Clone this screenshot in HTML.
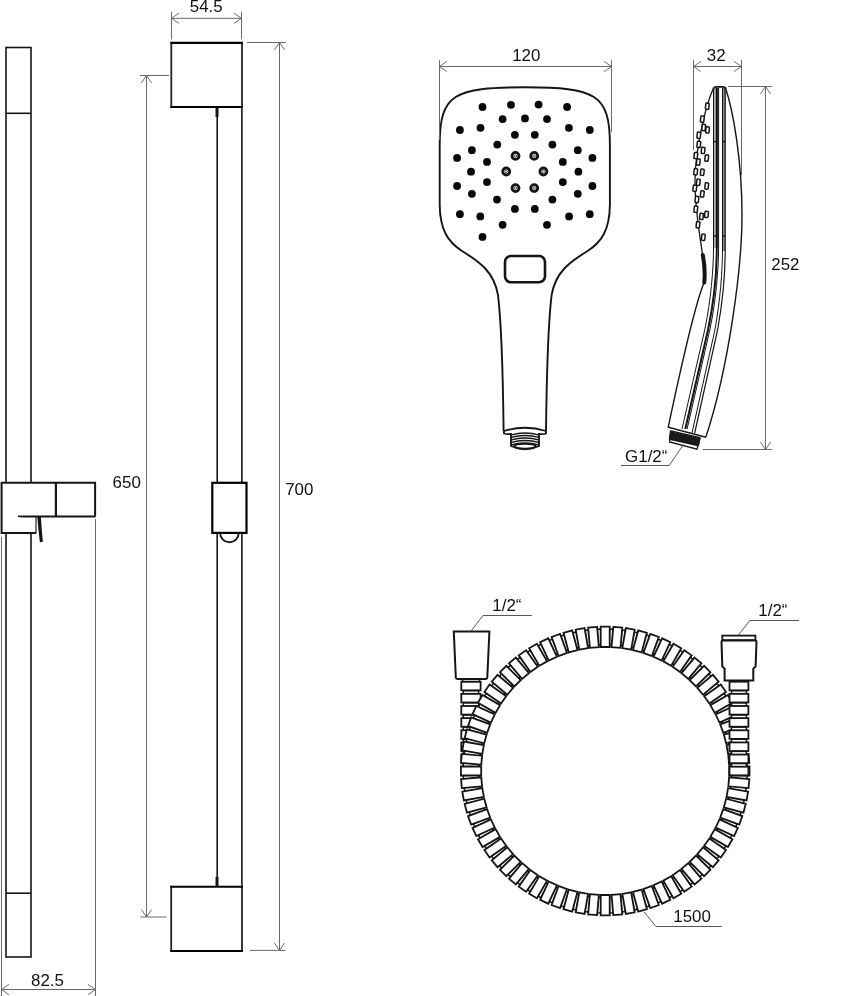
<!DOCTYPE html>
<html><head><meta charset="utf-8"><style>
html,body{margin:0;padding:0;background:#fff;}
svg{display:block;will-change:transform;}
text{font-family:"Liberation Sans",sans-serif;fill:#111;}
</style></head><body>
<svg width="850" height="996" viewBox="0 0 850 996">
<rect width="850" height="996" fill="#fff"/>
<rect x="6" y="47.5" width="25" height="909.5" fill="none" stroke="#151515" stroke-width="1.6"/>
<line x1="6.00" y1="113.30" x2="31.00" y2="113.30" stroke="#151515" stroke-width="1.6" />
<line x1="6.00" y1="893.20" x2="31.00" y2="893.20" stroke="#151515" stroke-width="1.6" />
<path d="M95.1 516.3 L95.1 482.8 L1.6 482.8 L1.6 533 L36 533" fill="#fff" stroke="#151515" stroke-width="2"/>
<rect x="36.5" y="517.5" width="58" height="15" fill="#fff"/>
<line x1="36.00" y1="516.50" x2="36.00" y2="533.50" stroke="#333" stroke-width="1.3" />
<line x1="55.90" y1="482.80" x2="55.90" y2="516.30" stroke="#151515" stroke-width="2.2" />
<path d="M18 515.6 L95.5 515.4 L95.5 517.4 L30 517.6 Q22 517.6 18 517 Z" fill="#151515"/>
<path d="M37.3 517 L40.9 517 Q41.6 530 42.9 541.6 L39.9 542.6 Q38.4 530 37.3 517 Z" fill="#151515"/>
<line x1="1.50" y1="537.00" x2="1.50" y2="996.00" stroke="#6a6a6a" stroke-width="1.0" />
<line x1="95.50" y1="519.00" x2="95.50" y2="996.00" stroke="#6a6a6a" stroke-width="1.0" />
<line x1="1.50" y1="989.50" x2="95.50" y2="989.50" stroke="#6a6a6a" stroke-width="1.0" />
<polyline points="8.90,984.40 1.50,989.50 8.90,994.60" fill="none" stroke="#6a6a6a" stroke-width="1.0"/>
<polyline points="88.10,994.60 95.50,989.50 88.10,984.40" fill="none" stroke="#6a6a6a" stroke-width="1.0"/>
<text x="31.09" y="985.70" font-size="16.9">82.5</text>
<line x1="217.20" y1="107.00" x2="217.20" y2="886.60" stroke="#151515" stroke-width="1.6" />
<line x1="217.00" y1="107.00" x2="217.00" y2="117.00" stroke="#151515" stroke-width="3" />
<line x1="217.00" y1="877.00" x2="217.00" y2="886.60" stroke="#151515" stroke-width="3" />
<line x1="241.90" y1="107.00" x2="241.90" y2="886.60" stroke="#151515" stroke-width="1.6" />
<rect x="171.3" y="42.9" width="70.69999999999999" height="64.1" fill="#fff"/>
<line x1="171.30" y1="41.85" x2="171.30" y2="108.05" stroke="#222" stroke-width="1.8" />
<line x1="242.00" y1="41.85" x2="242.00" y2="108.05" stroke="#222" stroke-width="1.8" />
<line x1="170.40" y1="42.90" x2="242.90" y2="42.90" stroke="#000" stroke-width="2.1" />
<line x1="170.40" y1="107.00" x2="242.90" y2="107.00" stroke="#000" stroke-width="2.1" />
<rect x="171.2" y="886.8" width="70.80000000000001" height="64.20000000000005" fill="#fff"/>
<line x1="171.20" y1="885.75" x2="171.20" y2="952.05" stroke="#222" stroke-width="1.8" />
<line x1="242.00" y1="885.75" x2="242.00" y2="952.05" stroke="#222" stroke-width="1.8" />
<line x1="170.30" y1="886.80" x2="242.90" y2="886.80" stroke="#000" stroke-width="2.1" />
<line x1="170.30" y1="951.00" x2="242.90" y2="951.00" stroke="#000" stroke-width="2.1" />
<path d="M220.1 533 A9.3 9.3 0 0 0 238.7 533" fill="#fff" stroke="#151515" stroke-width="1.9"/>
<rect x="212.3" y="482.8" width="34.2" height="50.1" fill="#fff" stroke="#000" stroke-width="2.2"/>
<line x1="171.50" y1="11.80" x2="171.50" y2="39.40" stroke="#6a6a6a" stroke-width="1.0" />
<line x1="241.50" y1="11.80" x2="241.50" y2="39.40" stroke="#6a6a6a" stroke-width="1.0" />
<line x1="171.50" y1="18.30" x2="241.50" y2="18.30" stroke="#6a6a6a" stroke-width="1.0" />
<polyline points="178.90,13.20 171.50,18.30 178.90,23.40" fill="none" stroke="#6a6a6a" stroke-width="1.0"/>
<polyline points="234.10,23.40 241.50,18.30 234.10,13.20" fill="none" stroke="#6a6a6a" stroke-width="1.0"/>
<text x="189.77" y="11.65" font-size="16.9">54.5</text>
<line x1="246.80" y1="42.50" x2="286.00" y2="42.50" stroke="#6a6a6a" stroke-width="1.0" />
<line x1="250.00" y1="950.40" x2="285.60" y2="950.40" stroke="#6a6a6a" stroke-width="1.0" />
<line x1="279.50" y1="42.50" x2="279.50" y2="950.40" stroke="#6a6a6a" stroke-width="1.0" />
<polyline points="284.60,49.90 279.50,42.50 274.40,49.90" fill="none" stroke="#6a6a6a" stroke-width="1.0"/>
<polyline points="274.40,943.00 279.50,950.40 284.60,943.00" fill="none" stroke="#6a6a6a" stroke-width="1.0"/>
<text x="285.20" y="494.80" font-size="16.9">700</text>
<line x1="140.00" y1="75.50" x2="169.00" y2="75.50" stroke="#6a6a6a" stroke-width="1.0" />
<line x1="140.40" y1="917.00" x2="166.60" y2="917.00" stroke="#6a6a6a" stroke-width="1.0" />
<line x1="146.50" y1="75.50" x2="146.50" y2="917.00" stroke="#6a6a6a" stroke-width="1.0" />
<polyline points="151.60,82.90 146.50,75.50 141.40,82.90" fill="none" stroke="#6a6a6a" stroke-width="1.0"/>
<polyline points="141.40,909.60 146.50,917.00 151.60,909.60" fill="none" stroke="#6a6a6a" stroke-width="1.0"/>
<text x="112.60" y="487.70" font-size="16.9">650</text>
<path d="M503.60 431 C503 380 501 320 498 295 C494 272 480 262 462 251 C448 242 440 230 439.7 205 L439.7 145 C439.7 94 454 87.4 524.8 87.3 C595.5999999999999 87.4 609.8999999999999 94 609.8999999999999 145 L609.8999999999999 205 C609.5999999999999 230 601.5999999999999 242 587.5999999999999 251 C569.5999999999999 262 555.5999999999999 272 551.5999999999999 295 C548.5999999999999 320 546.5999999999999 380 545.9999999999999 431" fill="none" stroke="#151515" stroke-width="1.9"/>
<circle cx="482.5" cy="107.0" r="3.9" fill="#080808"/>
<circle cx="511.0" cy="104.8" r="3.9" fill="#080808"/>
<circle cx="538.6" cy="104.6" r="3.9" fill="#080808"/>
<circle cx="567.1" cy="107.0" r="3.9" fill="#080808"/>
<circle cx="502.6" cy="119.1" r="3.9" fill="#080808"/>
<circle cx="525.0" cy="118.4" r="3.9" fill="#080808"/>
<circle cx="547.0" cy="119.1" r="3.9" fill="#080808"/>
<circle cx="459.9" cy="130.0" r="3.9" fill="#080808"/>
<circle cx="480.5" cy="127.8" r="3.9" fill="#080808"/>
<circle cx="568.9" cy="127.8" r="3.9" fill="#080808"/>
<circle cx="589.8" cy="130.0" r="3.9" fill="#080808"/>
<circle cx="514.9" cy="134.8" r="3.9" fill="#080808"/>
<circle cx="534.8" cy="134.8" r="3.9" fill="#080808"/>
<circle cx="497.3" cy="144.6" r="3.9" fill="#080808"/>
<circle cx="552.4" cy="144.6" r="3.9" fill="#080808"/>
<circle cx="471.9" cy="150.2" r="3.9" fill="#080808"/>
<circle cx="577.8" cy="150.2" r="3.9" fill="#080808"/>
<circle cx="457.1" cy="157.9" r="3.9" fill="#080808"/>
<circle cx="487.0" cy="161.9" r="3.9" fill="#080808"/>
<circle cx="562.8" cy="161.9" r="3.9" fill="#080808"/>
<circle cx="592.4" cy="157.9" r="3.9" fill="#080808"/>
<circle cx="471.0" cy="171.7" r="3.9" fill="#080808"/>
<circle cx="578.4" cy="171.7" r="3.9" fill="#080808"/>
<circle cx="487.0" cy="182.1" r="3.9" fill="#080808"/>
<circle cx="562.8" cy="182.1" r="3.9" fill="#080808"/>
<circle cx="457.1" cy="186.0" r="3.9" fill="#080808"/>
<circle cx="592.4" cy="186.0" r="3.9" fill="#080808"/>
<circle cx="471.9" cy="193.8" r="3.9" fill="#080808"/>
<circle cx="577.8" cy="193.8" r="3.9" fill="#080808"/>
<circle cx="497.0" cy="199.6" r="3.9" fill="#080808"/>
<circle cx="552.4" cy="199.6" r="3.9" fill="#080808"/>
<circle cx="514.9" cy="208.9" r="3.9" fill="#080808"/>
<circle cx="534.8" cy="208.9" r="3.9" fill="#080808"/>
<circle cx="459.9" cy="214.2" r="3.9" fill="#080808"/>
<circle cx="480.3" cy="216.4" r="3.9" fill="#080808"/>
<circle cx="569.1" cy="216.4" r="3.9" fill="#080808"/>
<circle cx="589.8" cy="214.2" r="3.9" fill="#080808"/>
<circle cx="502.6" cy="224.8" r="3.9" fill="#080808"/>
<circle cx="547.0" cy="224.8" r="3.9" fill="#080808"/>
<circle cx="482.5" cy="236.9" r="3.9" fill="#080808"/>
<circle cx="515.5" cy="155.9" r="3.5" fill="#fff" stroke="#151515" stroke-width="2.8"/>
<circle cx="515.5" cy="155.9" r="1.2" fill="none" stroke="#151515" stroke-width="0.7"/>
<circle cx="534.2" cy="155.9" r="3.5" fill="#fff" stroke="#151515" stroke-width="2.8"/>
<circle cx="534.2" cy="155.9" r="1.2" fill="none" stroke="#151515" stroke-width="0.7"/>
<circle cx="506.2" cy="171.5" r="3.5" fill="#fff" stroke="#151515" stroke-width="2.8"/>
<circle cx="506.2" cy="171.5" r="1.2" fill="none" stroke="#151515" stroke-width="0.7"/>
<circle cx="543.4" cy="171.5" r="3.5" fill="#fff" stroke="#151515" stroke-width="2.8"/>
<circle cx="543.4" cy="171.5" r="1.2" fill="none" stroke="#151515" stroke-width="0.7"/>
<circle cx="515.5" cy="188.1" r="3.5" fill="#fff" stroke="#151515" stroke-width="2.8"/>
<circle cx="515.5" cy="188.1" r="1.2" fill="none" stroke="#151515" stroke-width="0.7"/>
<circle cx="534.2" cy="188.1" r="3.5" fill="#fff" stroke="#151515" stroke-width="2.8"/>
<circle cx="534.2" cy="188.1" r="1.2" fill="none" stroke="#151515" stroke-width="0.7"/>
<rect x="505" y="256" width="40" height="26.3" rx="6" fill="none" stroke="#151515" stroke-width="2.6"/>
<path d="M504 433.5 L504 431 Q525 424.5 546 431 L546 433.5 Q543 434.5 539 434 L539 446 Q525 452.5 511 446 L511 434 Q507 434.5 504 433.5 Z" fill="#fff" stroke="#151515" stroke-width="1.8"/>
<path d="M510.5 435.1 Q525 430.8 539.5 435.1" fill="none" stroke="#151515" stroke-width="1.5"/>
<path d="M510.5 437.6 Q525 433.3 539.5 437.6" fill="none" stroke="#151515" stroke-width="1.5"/>
<path d="M510.5 440.1 Q525 435.8 539.5 440.1" fill="none" stroke="#151515" stroke-width="1.5"/>
<path d="M510.5 442.6 Q525 438.3 539.5 442.6" fill="none" stroke="#151515" stroke-width="1.5"/>
<path d="M510.5 445.1 Q525 440.8 539.5 445.1" fill="none" stroke="#151515" stroke-width="1.5"/>
<ellipse cx="525" cy="446.2" rx="10.6" ry="2.5" fill="#fff" stroke="#151515" stroke-width="1.9"/>
<line x1="439.50" y1="60.30" x2="439.50" y2="140.00" stroke="#6a6a6a" stroke-width="1.0" />
<line x1="611.50" y1="60.30" x2="611.50" y2="132.00" stroke="#6a6a6a" stroke-width="1.0" />
<line x1="439.50" y1="66.50" x2="611.50" y2="66.50" stroke="#6a6a6a" stroke-width="1.0" />
<polyline points="446.90,61.40 439.50,66.50 446.90,71.60" fill="none" stroke="#6a6a6a" stroke-width="1.0"/>
<polyline points="604.10,71.60 611.50,66.50 604.10,61.40" fill="none" stroke="#6a6a6a" stroke-width="1.0"/>
<text x="512.14" y="60.90" font-size="16.9">120</text>
<line x1="693.50" y1="59.80" x2="693.50" y2="150.00" stroke="#6a6a6a" stroke-width="1.0" />
<line x1="741.50" y1="59.80" x2="741.50" y2="175.00" stroke="#6a6a6a" stroke-width="1.0" />
<line x1="693.50" y1="66.50" x2="741.50" y2="66.50" stroke="#6a6a6a" stroke-width="1.0" />
<polyline points="700.90,61.40 693.50,66.50 700.90,71.60" fill="none" stroke="#6a6a6a" stroke-width="1.0"/>
<polyline points="734.10,71.60 741.50,66.50 734.10,61.40" fill="none" stroke="#6a6a6a" stroke-width="1.0"/>
<text x="706.85" y="60.80" font-size="16.9">32</text>
<line x1="728.00" y1="86.50" x2="772.00" y2="86.50" stroke="#6a6a6a" stroke-width="1.0" />
<line x1="702.70" y1="449.50" x2="772.00" y2="449.50" stroke="#6a6a6a" stroke-width="1.0" />
<line x1="765.50" y1="86.50" x2="765.50" y2="449.50" stroke="#6a6a6a" stroke-width="1.0" />
<polyline points="770.60,93.90 765.50,86.50 760.40,93.90" fill="none" stroke="#6a6a6a" stroke-width="1.0"/>
<polyline points="760.40,442.10 765.50,449.50 770.60,442.10" fill="none" stroke="#6a6a6a" stroke-width="1.0"/>
<text x="771.25" y="269.80" font-size="16.9">252</text>
<path d="M725.5 88 C733 110 742 160 742 215 C742 270 728 370 705.8 437.2" fill="none" stroke="#151515" stroke-width="1.4"/>
<path d="M713.5 88.5 Q714.5 86.8 716.5 86.8 L723 86.8 Q725 86.8 725.8 88.5" fill="none" stroke="#151515" stroke-width="1.8"/>
<path d="M713.5 88 C708 100 696 140 695 180 C694.5 205 699 230 702.6 255" fill="none" stroke="#151515" stroke-width="1.3"/>
<path d="M702.8 255 Q705.5 268 704.3 282.4" fill="none" stroke="#151515" stroke-width="4" stroke-linecap="round"/>
<path d="M703.7 283.5 Q693 310 668.2 427.3 L705.8 437.3" fill="none" stroke="#151515" stroke-width="1.4"/>
<path d="M713.5 88 L713.5 248 C713.5 268 711.0 300 704.7 330 L682.0 429" fill="none" stroke="#151515" stroke-width="1.0"/>
<path d="M716.8 88 L716.8 248 C716.8 268 714.3 300 708.0 330 L685.3 429" fill="none" stroke="#151515" stroke-width="2.0"/>
<path d="M718.6 88 L718.6 248 C718.6 268 716.1 300 709.8000000000001 330 L687.1 429" fill="none" stroke="#151515" stroke-width="1.0"/>
<path d="M722.5 88 L722.5 250 C722.5 270 720.3 300 714.9 330 L692.0 433" fill="none" stroke="#151515" stroke-width="1.0"/>
<path d="M725.2 88 L725.2 250 C725.2 270 723.0 300 717.6 330 L694.7 433" fill="none" stroke="#151515" stroke-width="1.2"/>
<rect x="713.5" y="88" width="5" height="160" fill="#000" opacity="0.3"/>
<rect x="722.5" y="88" width="2.7" height="163" fill="#000" opacity="0.45"/>
<line x1="713.50" y1="141.60" x2="718.60" y2="141.60" stroke="#151515" stroke-width="1.4" />
<line x1="722.50" y1="141.60" x2="725.20" y2="141.60" stroke="#151515" stroke-width="1.4" />
<line x1="713.50" y1="236.10" x2="718.60" y2="236.10" stroke="#151515" stroke-width="1.4" />
<line x1="722.50" y1="236.10" x2="725.20" y2="236.10" stroke="#151515" stroke-width="1.4" />
<rect x="705.60" y="103.10" width="3.4" height="6.2" rx="0.8" fill="#fff" stroke="#151515" stroke-width="1.5" transform="rotate(6 707.3 106.2)"/>
<rect x="700.60" y="116.00" width="3.4" height="6.2" rx="0.8" fill="#fff" stroke="#151515" stroke-width="1.5" transform="rotate(6 702.3 119.1)"/>
<rect x="702.00" y="124.40" width="3.4" height="6.2" rx="0.8" fill="#fff" stroke="#151515" stroke-width="1.5" transform="rotate(6 703.7 127.5)"/>
<rect x="705.80" y="126.80" width="3.4" height="6.2" rx="0.8" fill="#fff" stroke="#151515" stroke-width="1.5" transform="rotate(6 707.5 129.9)"/>
<rect x="697.10" y="132.10" width="3.4" height="6.2" rx="0.8" fill="#fff" stroke="#151515" stroke-width="1.5" transform="rotate(6 698.8 135.2)"/>
<rect x="697.10" y="141.30" width="3.4" height="6.2" rx="0.8" fill="#fff" stroke="#151515" stroke-width="1.5" transform="rotate(6 698.8 144.4)"/>
<rect x="701.40" y="147.30" width="3.4" height="6.2" rx="0.8" fill="#fff" stroke="#151515" stroke-width="1.5" transform="rotate(6 703.1 150.4)"/>
<rect x="694.10" y="152.50" width="3.4" height="6.2" rx="0.8" fill="#fff" stroke="#151515" stroke-width="1.5" transform="rotate(6 695.8 155.6)"/>
<rect x="705.00" y="155.00" width="3.4" height="6.2" rx="0.8" fill="#fff" stroke="#151515" stroke-width="1.5" transform="rotate(6 706.7 158.1)"/>
<rect x="696.60" y="159.00" width="3.4" height="6.2" rx="0.8" fill="#fff" stroke="#151515" stroke-width="1.5" transform="rotate(6 698.3 162.1)"/>
<rect x="694.00" y="168.70" width="3.4" height="6.2" rx="0.8" fill="#fff" stroke="#151515" stroke-width="1.5" transform="rotate(6 695.7 171.8)"/>
<rect x="700.60" y="169.10" width="3.4" height="6.2" rx="0.8" fill="#fff" stroke="#151515" stroke-width="1.5" transform="rotate(6 702.3 172.2)"/>
<rect x="696.60" y="179.20" width="3.4" height="6.2" rx="0.8" fill="#fff" stroke="#151515" stroke-width="1.5" transform="rotate(6 698.3 182.3)"/>
<rect x="693.10" y="185.20" width="3.4" height="6.2" rx="0.8" fill="#fff" stroke="#151515" stroke-width="1.5" transform="rotate(6 694.8 188.3)"/>
<rect x="705.00" y="182.90" width="3.4" height="6.2" rx="0.8" fill="#fff" stroke="#151515" stroke-width="1.5" transform="rotate(6 706.7 186.0)"/>
<rect x="700.60" y="190.80" width="3.4" height="6.2" rx="0.8" fill="#fff" stroke="#151515" stroke-width="1.5" transform="rotate(6 702.3 193.9)"/>
<rect x="695.20" y="196.40" width="3.4" height="6.2" rx="0.8" fill="#fff" stroke="#151515" stroke-width="1.5" transform="rotate(6 696.9 199.5)"/>
<rect x="694.10" y="206.10" width="3.4" height="6.2" rx="0.8" fill="#fff" stroke="#151515" stroke-width="1.5" transform="rotate(6 695.8 209.2)"/>
<rect x="704.80" y="211.30" width="3.4" height="6.2" rx="0.8" fill="#fff" stroke="#151515" stroke-width="1.5" transform="rotate(6 706.5 214.4)"/>
<rect x="699.80" y="213.30" width="3.4" height="6.2" rx="0.8" fill="#fff" stroke="#151515" stroke-width="1.5" transform="rotate(6 701.5 216.4)"/>
<rect x="696.30" y="221.70" width="3.4" height="6.2" rx="0.8" fill="#fff" stroke="#151515" stroke-width="1.5" transform="rotate(6 698.0 224.8)"/>
<rect x="701.60" y="234.20" width="3.4" height="6.2" rx="0.8" fill="#fff" stroke="#151515" stroke-width="1.5" transform="rotate(6 703.3 237.3)"/>
<path d="M671 430.8 L700 437.8 L697 449.2 L669.6 442 Z" fill="#fff" stroke="#151515" stroke-width="1.3"/>
<path d="M670.8 432.2 L699.3 439 L698 445.2 L669.9 438.8 Z" fill="#1a1a1a" stroke="#1a1a1a" stroke-width="2.2"/>
<line x1="621.00" y1="465.50" x2="669.20" y2="465.50" stroke="#555" stroke-width="1" />
<line x1="669.20" y1="465.50" x2="683.50" y2="444.50" stroke="#555" stroke-width="1" />
<text x="625.10" y="461.80" font-size="16.9">G1/2“</text>
<rect x="463.3" y="763.50" width="15.300000000000011" height="3.6" fill="#fff" stroke="#151515" stroke-width="1.5"/>
<rect x="463.3" y="751.36" width="15.300000000000011" height="3.6" fill="#fff" stroke="#151515" stroke-width="1.5"/>
<rect x="463.3" y="739.22" width="15.300000000000011" height="3.6" fill="#fff" stroke="#151515" stroke-width="1.5"/>
<rect x="463.3" y="727.08" width="15.300000000000011" height="3.6" fill="#fff" stroke="#151515" stroke-width="1.5"/>
<rect x="463.3" y="714.94" width="15.300000000000011" height="3.6" fill="#fff" stroke="#151515" stroke-width="1.5"/>
<rect x="463.3" y="702.80" width="15.300000000000011" height="3.6" fill="#fff" stroke="#151515" stroke-width="1.5"/>
<rect x="463.3" y="690.66" width="15.300000000000011" height="3.6" fill="#fff" stroke="#151515" stroke-width="1.5"/>
<rect x="463.3" y="678.52" width="15.300000000000011" height="3.6" fill="#fff" stroke="#151515" stroke-width="1.5"/>
<rect x="461.3" y="766.70" width="19.30000000000001" height="8.6" fill="#fff" stroke="#151515" stroke-width="1.8"/>
<rect x="461.3" y="754.56" width="19.30000000000001" height="8.6" fill="#fff" stroke="#151515" stroke-width="1.8"/>
<rect x="461.3" y="742.42" width="19.30000000000001" height="8.6" fill="#fff" stroke="#151515" stroke-width="1.8"/>
<rect x="461.3" y="730.28" width="19.30000000000001" height="8.6" fill="#fff" stroke="#151515" stroke-width="1.8"/>
<rect x="461.3" y="718.14" width="19.30000000000001" height="8.6" fill="#fff" stroke="#151515" stroke-width="1.8"/>
<rect x="461.3" y="706.00" width="19.30000000000001" height="8.6" fill="#fff" stroke="#151515" stroke-width="1.8"/>
<rect x="461.3" y="693.86" width="19.30000000000001" height="8.6" fill="#fff" stroke="#151515" stroke-width="1.8"/>
<rect x="461.3" y="681.72" width="19.30000000000001" height="8.6" fill="#fff" stroke="#151515" stroke-width="1.8"/>
<polygon points="731.51,763.78 746.99,763.11 747.14,766.50 731.65,767.18" fill="#fff" stroke="#151515" stroke-width="1.5"/>
<polygon points="730.40,752.80 745.76,750.78 746.21,754.15 730.84,756.17" fill="#fff" stroke="#151515" stroke-width="1.5"/>
<polygon points="728.33,741.96 743.47,738.61 744.20,741.93 729.07,745.28" fill="#fff" stroke="#151515" stroke-width="1.5"/>
<polygon points="725.33,731.34 740.12,726.68 741.14,729.92 726.36,734.58" fill="#fff" stroke="#151515" stroke-width="1.5"/>
<polygon points="721.42,721.02 735.74,715.09 737.04,718.23 722.72,724.16" fill="#fff" stroke="#151515" stroke-width="1.5"/>
<polygon points="716.62,711.08 730.37,703.92 731.94,706.94 718.19,714.10" fill="#fff" stroke="#151515" stroke-width="1.5"/>
<polygon points="710.98,701.60 724.05,693.27 725.87,696.14 712.80,704.47" fill="#fff" stroke="#151515" stroke-width="1.5"/>
<polygon points="704.52,692.64 716.82,683.21 718.89,685.90 706.59,695.34" fill="#fff" stroke="#151515" stroke-width="1.5"/>
<polygon points="697.32,684.28 708.74,673.81 711.04,676.32 699.61,686.79" fill="#fff" stroke="#151515" stroke-width="1.5"/>
<polygon points="689.41,676.59 699.88,665.16 702.39,667.46 691.92,678.88" fill="#fff" stroke="#151515" stroke-width="1.5"/>
<polygon points="680.86,669.61 690.30,657.31 692.99,659.38 683.56,671.68" fill="#fff" stroke="#151515" stroke-width="1.5"/>
<polygon points="671.73,663.40 680.06,650.33 682.93,652.15 674.60,665.22" fill="#fff" stroke="#151515" stroke-width="1.5"/>
<polygon points="662.10,658.01 669.26,644.26 672.28,645.83 665.12,659.58" fill="#fff" stroke="#151515" stroke-width="1.5"/>
<polygon points="652.04,653.48 657.97,639.16 661.11,640.46 655.18,654.78" fill="#fff" stroke="#151515" stroke-width="1.5"/>
<polygon points="641.62,649.84 646.28,635.06 649.52,636.08 644.86,650.87" fill="#fff" stroke="#151515" stroke-width="1.5"/>
<polygon points="630.92,647.13 634.27,632.00 637.59,632.73 634.24,647.87" fill="#fff" stroke="#151515" stroke-width="1.5"/>
<polygon points="620.03,645.36 622.05,629.99 625.42,630.44 623.40,645.80" fill="#fff" stroke="#151515" stroke-width="1.5"/>
<polygon points="609.02,644.55 609.70,629.06 613.09,629.21 612.42,644.69" fill="#fff" stroke="#151515" stroke-width="1.5"/>
<polygon points="597.98,644.69 597.31,629.21 600.70,629.06 601.38,644.55" fill="#fff" stroke="#151515" stroke-width="1.5"/>
<polygon points="587.00,645.80 584.98,630.44 588.35,629.99 590.37,645.36" fill="#fff" stroke="#151515" stroke-width="1.5"/>
<polygon points="576.16,647.87 572.81,632.73 576.13,632.00 579.48,647.13" fill="#fff" stroke="#151515" stroke-width="1.5"/>
<polygon points="565.54,650.87 560.88,636.08 564.12,635.06 568.78,649.84" fill="#fff" stroke="#151515" stroke-width="1.5"/>
<polygon points="555.22,654.78 549.29,640.46 552.43,639.16 558.36,653.48" fill="#fff" stroke="#151515" stroke-width="1.5"/>
<polygon points="545.28,659.58 538.12,645.83 541.14,644.26 548.30,658.01" fill="#fff" stroke="#151515" stroke-width="1.5"/>
<polygon points="535.80,665.22 527.47,652.15 530.34,650.33 538.67,663.40" fill="#fff" stroke="#151515" stroke-width="1.5"/>
<polygon points="526.84,671.68 517.41,659.38 520.10,657.31 529.54,669.61" fill="#fff" stroke="#151515" stroke-width="1.5"/>
<polygon points="518.48,678.88 508.01,667.46 510.52,665.16 520.99,676.59" fill="#fff" stroke="#151515" stroke-width="1.5"/>
<polygon points="510.79,686.79 499.36,676.32 501.66,673.81 513.08,684.28" fill="#fff" stroke="#151515" stroke-width="1.5"/>
<polygon points="503.81,695.34 491.51,685.90 493.58,683.21 505.88,692.64" fill="#fff" stroke="#151515" stroke-width="1.5"/>
<polygon points="497.60,704.47 484.53,696.14 486.35,693.27 499.42,701.60" fill="#fff" stroke="#151515" stroke-width="1.5"/>
<polygon points="492.21,714.10 478.46,706.94 480.03,703.92 493.78,711.08" fill="#fff" stroke="#151515" stroke-width="1.5"/>
<polygon points="487.68,724.16 473.36,718.23 474.66,715.09 488.98,721.02" fill="#fff" stroke="#151515" stroke-width="1.5"/>
<polygon points="484.04,734.58 469.26,729.92 470.28,726.68 485.07,731.34" fill="#fff" stroke="#151515" stroke-width="1.5"/>
<polygon points="481.33,745.28 466.20,741.93 466.93,738.61 482.07,741.96" fill="#fff" stroke="#151515" stroke-width="1.5"/>
<polygon points="479.56,756.17 464.19,754.15 464.64,750.78 480.00,752.80" fill="#fff" stroke="#151515" stroke-width="1.5"/>
<polygon points="478.75,767.18 463.26,766.50 463.41,763.11 478.89,763.78" fill="#fff" stroke="#151515" stroke-width="1.5"/>
<polygon points="478.89,778.22 463.41,778.89 463.26,775.50 478.75,774.82" fill="#fff" stroke="#151515" stroke-width="1.5"/>
<polygon points="480.00,789.20 464.64,791.22 464.19,787.85 479.56,785.83" fill="#fff" stroke="#151515" stroke-width="1.5"/>
<polygon points="482.07,800.04 466.93,803.39 466.20,800.07 481.33,796.72" fill="#fff" stroke="#151515" stroke-width="1.5"/>
<polygon points="485.07,810.66 470.28,815.32 469.26,812.08 484.04,807.42" fill="#fff" stroke="#151515" stroke-width="1.5"/>
<polygon points="488.98,820.98 474.66,826.91 473.36,823.77 487.68,817.84" fill="#fff" stroke="#151515" stroke-width="1.5"/>
<polygon points="493.78,830.92 480.03,838.08 478.46,835.06 492.21,827.90" fill="#fff" stroke="#151515" stroke-width="1.5"/>
<polygon points="499.42,840.40 486.35,848.73 484.53,845.86 497.60,837.53" fill="#fff" stroke="#151515" stroke-width="1.5"/>
<polygon points="505.88,849.36 493.58,858.79 491.51,856.10 503.81,846.66" fill="#fff" stroke="#151515" stroke-width="1.5"/>
<polygon points="513.08,857.72 501.66,868.19 499.36,865.68 510.79,855.21" fill="#fff" stroke="#151515" stroke-width="1.5"/>
<polygon points="520.99,865.41 510.52,876.84 508.01,874.54 518.48,863.12" fill="#fff" stroke="#151515" stroke-width="1.5"/>
<polygon points="529.54,872.39 520.10,884.69 517.41,882.62 526.84,870.32" fill="#fff" stroke="#151515" stroke-width="1.5"/>
<polygon points="538.67,878.60 530.34,891.67 527.47,889.85 535.80,876.78" fill="#fff" stroke="#151515" stroke-width="1.5"/>
<polygon points="548.30,883.99 541.14,897.74 538.12,896.17 545.28,882.42" fill="#fff" stroke="#151515" stroke-width="1.5"/>
<polygon points="558.36,888.52 552.43,902.84 549.29,901.54 555.22,887.22" fill="#fff" stroke="#151515" stroke-width="1.5"/>
<polygon points="568.78,892.16 564.12,906.94 560.88,905.92 565.54,891.13" fill="#fff" stroke="#151515" stroke-width="1.5"/>
<polygon points="579.48,894.87 576.13,910.00 572.81,909.27 576.16,894.13" fill="#fff" stroke="#151515" stroke-width="1.5"/>
<polygon points="590.37,896.64 588.35,912.01 584.98,911.56 587.00,896.20" fill="#fff" stroke="#151515" stroke-width="1.5"/>
<polygon points="601.38,897.45 600.70,912.94 597.31,912.79 597.98,897.31" fill="#fff" stroke="#151515" stroke-width="1.5"/>
<polygon points="612.42,897.31 613.09,912.79 609.70,912.94 609.02,897.45" fill="#fff" stroke="#151515" stroke-width="1.5"/>
<polygon points="623.40,896.20 625.42,911.56 622.05,912.01 620.03,896.64" fill="#fff" stroke="#151515" stroke-width="1.5"/>
<polygon points="634.24,894.13 637.59,909.27 634.27,910.00 630.92,894.87" fill="#fff" stroke="#151515" stroke-width="1.5"/>
<polygon points="644.86,891.13 649.52,905.92 646.28,906.94 641.62,892.16" fill="#fff" stroke="#151515" stroke-width="1.5"/>
<polygon points="655.18,887.22 661.11,901.54 657.97,902.84 652.04,888.52" fill="#fff" stroke="#151515" stroke-width="1.5"/>
<polygon points="665.12,882.42 672.28,896.17 669.26,897.74 662.10,883.99" fill="#fff" stroke="#151515" stroke-width="1.5"/>
<polygon points="674.60,876.78 682.93,889.85 680.06,891.67 671.73,878.60" fill="#fff" stroke="#151515" stroke-width="1.5"/>
<polygon points="683.56,870.32 692.99,882.62 690.30,884.69 680.86,872.39" fill="#fff" stroke="#151515" stroke-width="1.5"/>
<polygon points="691.92,863.12 702.39,874.54 699.88,876.84 689.41,865.41" fill="#fff" stroke="#151515" stroke-width="1.5"/>
<polygon points="699.61,855.21 711.04,865.68 708.74,868.19 697.32,857.72" fill="#fff" stroke="#151515" stroke-width="1.5"/>
<polygon points="706.59,846.66 718.89,856.10 716.82,858.79 704.52,849.36" fill="#fff" stroke="#151515" stroke-width="1.5"/>
<polygon points="712.80,837.53 725.87,845.86 724.05,848.73 710.98,840.40" fill="#fff" stroke="#151515" stroke-width="1.5"/>
<polygon points="718.19,827.90 731.94,835.06 730.37,838.08 716.62,830.92" fill="#fff" stroke="#151515" stroke-width="1.5"/>
<polygon points="722.72,817.84 737.04,823.77 735.74,826.91 721.42,820.98" fill="#fff" stroke="#151515" stroke-width="1.5"/>
<polygon points="726.36,807.42 741.14,812.08 740.12,815.32 725.33,810.66" fill="#fff" stroke="#151515" stroke-width="1.5"/>
<polygon points="729.07,796.72 744.20,800.07 743.47,803.39 728.33,800.04" fill="#fff" stroke="#151515" stroke-width="1.5"/>
<polygon points="730.84,785.83 746.21,787.85 745.76,791.22 730.40,789.20" fill="#fff" stroke="#151515" stroke-width="1.5"/>
<polygon points="731.65,774.82 747.14,775.50 746.99,778.89 731.51,778.22" fill="#fff" stroke="#151515" stroke-width="1.5"/>
<polygon points="729.20,766.50 749.50,766.50 749.50,775.50 729.20,775.50" fill="#fff" stroke="#151515" stroke-width="1.8"/>
<polygon points="728.34,755.71 748.56,753.94 749.34,762.91 729.12,764.68" fill="#fff" stroke="#151515" stroke-width="1.8"/>
<polygon points="726.53,745.04 746.53,741.51 748.09,750.37 728.10,753.90" fill="#fff" stroke="#151515" stroke-width="1.8"/>
<polygon points="723.81,734.56 743.42,729.31 745.75,738.00 726.14,743.25" fill="#fff" stroke="#151515" stroke-width="1.8"/>
<polygon points="720.18,724.36 739.26,717.42 742.34,725.88 723.26,732.82" fill="#fff" stroke="#151515" stroke-width="1.8"/>
<polygon points="715.68,714.52 734.08,705.94 737.88,714.09 719.48,722.67" fill="#fff" stroke="#151515" stroke-width="1.8"/>
<polygon points="710.34,705.10 727.92,694.95 732.42,702.75 714.84,712.90" fill="#fff" stroke="#151515" stroke-width="1.8"/>
<polygon points="704.19,696.19 720.82,684.55 725.98,691.92 709.36,703.56" fill="#fff" stroke="#151515" stroke-width="1.8"/>
<polygon points="697.30,687.85 712.85,674.80 718.63,681.69 703.08,694.74" fill="#fff" stroke="#151515" stroke-width="1.8"/>
<polygon points="689.70,680.14 704.05,665.78 710.42,672.15 696.06,686.50" fill="#fff" stroke="#151515" stroke-width="1.8"/>
<polygon points="681.46,673.12 694.51,657.57 701.40,663.35 688.35,678.90" fill="#fff" stroke="#151515" stroke-width="1.8"/>
<polygon points="672.64,666.84 684.28,650.22 691.65,655.38 680.01,672.01" fill="#fff" stroke="#151515" stroke-width="1.8"/>
<polygon points="663.30,661.36 673.45,643.78 681.25,648.28 671.10,665.86" fill="#fff" stroke="#151515" stroke-width="1.8"/>
<polygon points="653.53,656.72 662.11,638.32 670.26,642.12 661.68,660.52" fill="#fff" stroke="#151515" stroke-width="1.8"/>
<polygon points="643.38,652.94 650.32,633.86 658.78,636.94 651.84,656.02" fill="#fff" stroke="#151515" stroke-width="1.8"/>
<polygon points="632.95,650.06 638.20,630.45 646.89,632.78 641.64,652.39" fill="#fff" stroke="#151515" stroke-width="1.8"/>
<polygon points="622.30,648.10 625.83,628.11 634.69,629.67 631.16,649.67" fill="#fff" stroke="#151515" stroke-width="1.8"/>
<polygon points="611.52,647.08 613.29,626.86 622.26,627.64 620.49,647.86" fill="#fff" stroke="#151515" stroke-width="1.8"/>
<polygon points="600.70,647.00 600.70,626.70 609.70,626.70 609.70,647.00" fill="#fff" stroke="#151515" stroke-width="1.8"/>
<polygon points="589.91,647.86 588.14,627.64 597.11,626.86 598.88,647.08" fill="#fff" stroke="#151515" stroke-width="1.8"/>
<polygon points="579.24,649.67 575.71,629.67 584.57,628.11 588.10,648.10" fill="#fff" stroke="#151515" stroke-width="1.8"/>
<polygon points="568.76,652.39 563.51,632.78 572.20,630.45 577.45,650.06" fill="#fff" stroke="#151515" stroke-width="1.8"/>
<polygon points="558.56,656.02 551.62,636.94 560.08,633.86 567.02,652.94" fill="#fff" stroke="#151515" stroke-width="1.8"/>
<polygon points="548.72,660.52 540.14,642.12 548.29,638.32 556.87,656.72" fill="#fff" stroke="#151515" stroke-width="1.8"/>
<polygon points="539.30,665.86 529.15,648.28 536.95,643.78 547.10,661.36" fill="#fff" stroke="#151515" stroke-width="1.8"/>
<polygon points="530.39,672.01 518.75,655.38 526.12,650.22 537.76,666.84" fill="#fff" stroke="#151515" stroke-width="1.8"/>
<polygon points="522.05,678.90 509.00,663.35 515.89,657.57 528.94,673.12" fill="#fff" stroke="#151515" stroke-width="1.8"/>
<polygon points="514.34,686.50 499.98,672.15 506.35,665.78 520.70,680.14" fill="#fff" stroke="#151515" stroke-width="1.8"/>
<polygon points="507.32,694.74 491.77,681.69 497.55,674.80 513.10,687.85" fill="#fff" stroke="#151515" stroke-width="1.8"/>
<polygon points="501.04,703.56 484.42,691.92 489.58,684.55 506.21,696.19" fill="#fff" stroke="#151515" stroke-width="1.8"/>
<polygon points="495.56,712.90 477.98,702.75 482.48,694.95 500.06,705.10" fill="#fff" stroke="#151515" stroke-width="1.8"/>
<polygon points="490.92,722.67 472.52,714.09 476.32,705.94 494.72,714.52" fill="#fff" stroke="#151515" stroke-width="1.8"/>
<polygon points="487.14,732.82 468.06,725.88 471.14,717.42 490.22,724.36" fill="#fff" stroke="#151515" stroke-width="1.8"/>
<polygon points="484.26,743.25 464.65,738.00 466.98,729.31 486.59,734.56" fill="#fff" stroke="#151515" stroke-width="1.8"/>
<polygon points="482.30,753.90 462.31,750.37 463.87,741.51 483.87,745.04" fill="#fff" stroke="#151515" stroke-width="1.8"/>
<polygon points="481.28,764.68 461.06,762.91 461.84,753.94 482.06,755.71" fill="#fff" stroke="#151515" stroke-width="1.8"/>
<polygon points="481.20,775.50 460.90,775.50 460.90,766.50 481.20,766.50" fill="#fff" stroke="#151515" stroke-width="1.8"/>
<polygon points="482.06,786.29 461.84,788.06 461.06,779.09 481.28,777.32" fill="#fff" stroke="#151515" stroke-width="1.8"/>
<polygon points="483.87,796.96 463.87,800.49 462.31,791.63 482.30,788.10" fill="#fff" stroke="#151515" stroke-width="1.8"/>
<polygon points="486.59,807.44 466.98,812.69 464.65,804.00 484.26,798.75" fill="#fff" stroke="#151515" stroke-width="1.8"/>
<polygon points="490.22,817.64 471.14,824.58 468.06,816.12 487.14,809.18" fill="#fff" stroke="#151515" stroke-width="1.8"/>
<polygon points="494.72,827.48 476.32,836.06 472.52,827.91 490.92,819.33" fill="#fff" stroke="#151515" stroke-width="1.8"/>
<polygon points="500.06,836.90 482.48,847.05 477.98,839.25 495.56,829.10" fill="#fff" stroke="#151515" stroke-width="1.8"/>
<polygon points="506.21,845.81 489.58,857.45 484.42,850.08 501.04,838.44" fill="#fff" stroke="#151515" stroke-width="1.8"/>
<polygon points="513.10,854.15 497.55,867.20 491.77,860.31 507.32,847.26" fill="#fff" stroke="#151515" stroke-width="1.8"/>
<polygon points="520.70,861.86 506.35,876.22 499.98,869.85 514.34,855.50" fill="#fff" stroke="#151515" stroke-width="1.8"/>
<polygon points="528.94,868.88 515.89,884.43 509.00,878.65 522.05,863.10" fill="#fff" stroke="#151515" stroke-width="1.8"/>
<polygon points="537.76,875.16 526.12,891.78 518.75,886.62 530.39,869.99" fill="#fff" stroke="#151515" stroke-width="1.8"/>
<polygon points="547.10,880.64 536.95,898.22 529.15,893.72 539.30,876.14" fill="#fff" stroke="#151515" stroke-width="1.8"/>
<polygon points="556.87,885.28 548.29,903.68 540.14,899.88 548.72,881.48" fill="#fff" stroke="#151515" stroke-width="1.8"/>
<polygon points="567.02,889.06 560.08,908.14 551.62,905.06 558.56,885.98" fill="#fff" stroke="#151515" stroke-width="1.8"/>
<polygon points="577.45,891.94 572.20,911.55 563.51,909.22 568.76,889.61" fill="#fff" stroke="#151515" stroke-width="1.8"/>
<polygon points="588.10,893.90 584.57,913.89 575.71,912.33 579.24,892.33" fill="#fff" stroke="#151515" stroke-width="1.8"/>
<polygon points="598.88,894.92 597.11,915.14 588.14,914.36 589.91,894.14" fill="#fff" stroke="#151515" stroke-width="1.8"/>
<polygon points="609.70,895.00 609.70,915.30 600.70,915.30 600.70,895.00" fill="#fff" stroke="#151515" stroke-width="1.8"/>
<polygon points="620.49,894.14 622.26,914.36 613.29,915.14 611.52,894.92" fill="#fff" stroke="#151515" stroke-width="1.8"/>
<polygon points="631.16,892.33 634.69,912.33 625.83,913.89 622.30,893.90" fill="#fff" stroke="#151515" stroke-width="1.8"/>
<polygon points="641.64,889.61 646.89,909.22 638.20,911.55 632.95,891.94" fill="#fff" stroke="#151515" stroke-width="1.8"/>
<polygon points="651.84,885.98 658.78,905.06 650.32,908.14 643.38,889.06" fill="#fff" stroke="#151515" stroke-width="1.8"/>
<polygon points="661.68,881.48 670.26,899.88 662.11,903.68 653.53,885.28" fill="#fff" stroke="#151515" stroke-width="1.8"/>
<polygon points="671.10,876.14 681.25,893.72 673.45,898.22 663.30,880.64" fill="#fff" stroke="#151515" stroke-width="1.8"/>
<polygon points="680.01,869.99 691.65,886.62 684.28,891.78 672.64,875.16" fill="#fff" stroke="#151515" stroke-width="1.8"/>
<polygon points="688.35,863.10 701.40,878.65 694.51,884.43 681.46,868.88" fill="#fff" stroke="#151515" stroke-width="1.8"/>
<polygon points="696.06,855.50 710.42,869.85 704.05,876.22 689.70,861.86" fill="#fff" stroke="#151515" stroke-width="1.8"/>
<polygon points="703.08,847.26 718.63,860.31 712.85,867.20 697.30,854.15" fill="#fff" stroke="#151515" stroke-width="1.8"/>
<polygon points="709.36,838.44 725.98,850.08 720.82,857.45 704.19,845.81" fill="#fff" stroke="#151515" stroke-width="1.8"/>
<polygon points="714.84,829.10 732.42,839.25 727.92,847.05 710.34,836.90" fill="#fff" stroke="#151515" stroke-width="1.8"/>
<polygon points="719.48,819.33 737.88,827.91 734.08,836.06 715.68,827.48" fill="#fff" stroke="#151515" stroke-width="1.8"/>
<polygon points="723.26,809.18 742.34,816.12 739.26,824.58 720.18,817.64" fill="#fff" stroke="#151515" stroke-width="1.8"/>
<polygon points="726.14,798.75 745.75,804.00 743.42,812.69 723.81,807.44" fill="#fff" stroke="#151515" stroke-width="1.8"/>
<polygon points="728.10,788.10 748.09,791.63 746.53,800.49 726.53,796.96" fill="#fff" stroke="#151515" stroke-width="1.8"/>
<polygon points="729.12,777.32 749.34,779.09 748.56,788.06 728.34,786.29" fill="#fff" stroke="#151515" stroke-width="1.8"/>
<rect x="731.5" y="763.50" width="14.899999999999977" height="3.6" fill="#fff" stroke="#151515" stroke-width="1.5"/>
<rect x="731.5" y="751.36" width="14.899999999999977" height="3.6" fill="#fff" stroke="#151515" stroke-width="1.5"/>
<rect x="731.5" y="739.22" width="14.899999999999977" height="3.6" fill="#fff" stroke="#151515" stroke-width="1.5"/>
<rect x="731.5" y="727.08" width="14.899999999999977" height="3.6" fill="#fff" stroke="#151515" stroke-width="1.5"/>
<rect x="731.5" y="714.94" width="14.899999999999977" height="3.6" fill="#fff" stroke="#151515" stroke-width="1.5"/>
<rect x="731.5" y="702.80" width="14.899999999999977" height="3.6" fill="#fff" stroke="#151515" stroke-width="1.5"/>
<rect x="731.5" y="690.66" width="14.899999999999977" height="3.6" fill="#fff" stroke="#151515" stroke-width="1.5"/>
<rect x="731.5" y="678.52" width="14.899999999999977" height="3.6" fill="#fff" stroke="#151515" stroke-width="1.5"/>
<rect x="729.5" y="766.70" width="18.899999999999977" height="8.6" fill="#fff" stroke="#151515" stroke-width="1.8"/>
<rect x="729.5" y="754.56" width="18.899999999999977" height="8.6" fill="#fff" stroke="#151515" stroke-width="1.8"/>
<rect x="729.5" y="742.42" width="18.899999999999977" height="8.6" fill="#fff" stroke="#151515" stroke-width="1.8"/>
<rect x="729.5" y="730.28" width="18.899999999999977" height="8.6" fill="#fff" stroke="#151515" stroke-width="1.8"/>
<rect x="729.5" y="718.14" width="18.899999999999977" height="8.6" fill="#fff" stroke="#151515" stroke-width="1.8"/>
<rect x="729.5" y="706.00" width="18.899999999999977" height="8.6" fill="#fff" stroke="#151515" stroke-width="1.8"/>
<rect x="729.5" y="693.86" width="18.899999999999977" height="8.6" fill="#fff" stroke="#151515" stroke-width="1.8"/>
<rect x="729.5" y="681.72" width="18.899999999999977" height="8.6" fill="#fff" stroke="#151515" stroke-width="1.8"/>
<rect x="462.6" y="678.5" width="16.9" height="3" fill="#fff" stroke="#151515" stroke-width="1.5"/>
<path d="M453.8 631.6 L489.4 631.6 L487.3 677.5 Q487.2 678.9 485.8 678.9 L457.3 678.9 Q455.9 678.9 455.8 677.5 Z" fill="#fff" stroke="#151515" stroke-width="2"/>
<rect x="722.3" y="635.6" width="33.1" height="4.6" fill="#fff" stroke="#151515" stroke-width="1.8"/>
<path d="M721.5 642 Q721.5 640.4 723 640.4 L755 640.4 Q756.5 640.4 756.5 642 L755.6 666.4 L753.3 668.7 L753.3 680.6 L724.6 680.6 L724.6 668.7 L722.3 666.4 Z" fill="#fff" stroke="#151515" stroke-width="2"/>
<line x1="531.80" y1="615.50" x2="483.00" y2="615.50" stroke="#555" stroke-width="1" />
<line x1="483.00" y1="615.50" x2="471.00" y2="631.20" stroke="#555" stroke-width="1" />
<text x="492.36" y="610.80" font-size="16.9">1/2“</text>
<line x1="799.00" y1="620.50" x2="749.80" y2="620.50" stroke="#555" stroke-width="1" />
<line x1="749.80" y1="620.50" x2="738.20" y2="635.30" stroke="#555" stroke-width="1" />
<text x="758.36" y="615.60" font-size="16.9">1/2“</text>
<line x1="721.70" y1="926.50" x2="656.00" y2="926.50" stroke="#555" stroke-width="1" />
<line x1="656.00" y1="926.50" x2="644.00" y2="911.80" stroke="#555" stroke-width="1" />
<text x="673.34" y="921.70" font-size="16.9">1500</text>
</svg></body></html>
